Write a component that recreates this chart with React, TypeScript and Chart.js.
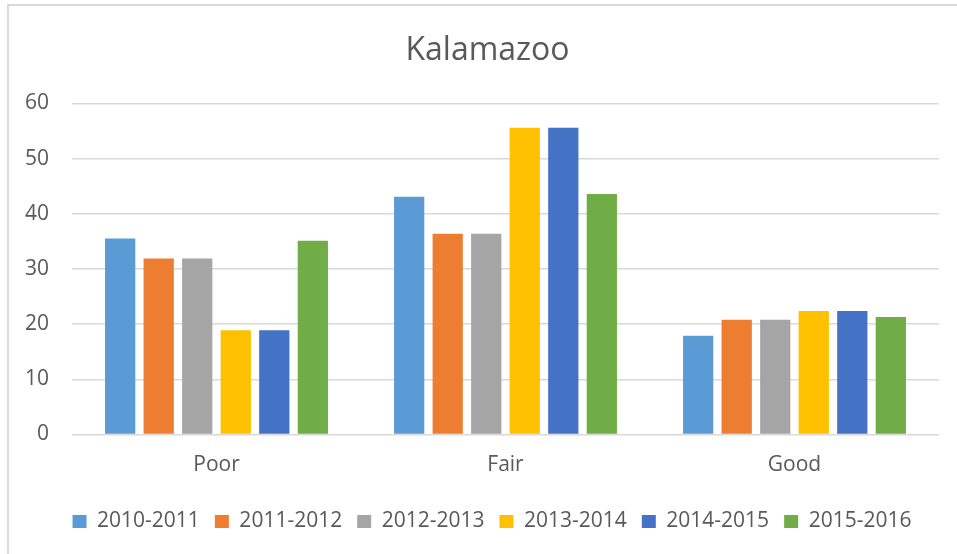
import React, { useEffect, useRef } from "react";
import { Chart, registerables } from "chart.js";

Chart.register(...registerables);

const categories = ["Poor", "Fair", "Good"];
const seriesLabels = ["2010-2011", "2011-2012", "2012-2013", "2013-2014", "2014-2015", "2015-2016"];
const s2010 = [35.5, 43.1, 17.9];
const s2011 = [31.9, 36.4, 20.8];
const s2012 = [31.9, 36.4, 20.8];
const s2013 = [18.9, 55.6, 22.4];
const s2014 = [18.9, 55.6, 22.4];
const s2015 = [35.1, 43.6, 21.3];
const seriesValues = [s2010, s2011, s2012, s2013, s2014, s2015];
const seriesColors = ["#5B9BD5", "#ED7D31", "#A5A5A5", "#FFC000", "#4472C4", "#70AD47"];
const titleText = "Kalamazoo";

const FONT = "'Open Sans', sans-serif";
const TEXT = "#595959";

// Nudge the title and legend boxes so they are centred like the original
const centerShift = {
  id: "centerShift",
  afterLayout(chart: any) {
    const t = chart.titleBlock;
    if (t) {
      t.left += 5.5;
      t.right += 5.5;
    }
    const l = chart.legend;
    if (l) {
      l.left += 10;
      l.right += 10;
    }
  },
};

export default function App() {
  const ref = useRef<HTMLCanvasElement | null>(null);

  useEffect(() => {
    if (!ref.current) return;
    const chart = new Chart(ref.current, {
      type: "bar",
      data: {
        labels: categories,
        datasets: seriesLabels.map((label, i) => ({
          label,
          data: seriesValues[i],
          backgroundColor: seriesColors[i],
          borderWidth: 0,
          categoryPercentage: 0.8,
          barPercentage: 0.785,
        })),
      },
      options: {
        responsive: false,
        animation: false,
        layout: { padding: { left: 25, right: 18, top: 22, bottom: 12 } },
        plugins: {
          title: {
            display: true,
            text: titleText,
            color: TEXT,
            font: { family: FONT, size: 32, weight: "normal" },
            padding: { top: 10, bottom: 33 },
          },
          legend: {
            position: "bottom",
            labels: {
              color: TEXT,
              font: { family: FONT, size: 21 },
              boxWidth: 14,
              boxHeight: 13,
              padding: 15,
            },
          },
          tooltip: { enabled: false },
        },
        scales: {
          x: {
            grid: { display: false, drawTicks: false },
            border: { display: false },
            ticks: { color: TEXT, font: { family: FONT, size: 21 }, padding: 18 },
            afterFit: (scale: any) => {
              scale.height = 61.5;
            },
          },
          y: {
            min: 0,
            max: 60,
            grid: { color: "#D9D9D9", lineWidth: 1.5, drawTicks: false },
            border: { display: false },
            ticks: { stepSize: 10, color: TEXT, font: { family: FONT, size: 21 }, padding: 23 },
            afterFit: (scale: any) => {
              scale.width = 47;
            },
          },
        },
      },
      plugins: [centerShift],
    });
    return () => chart.destroy();
  }, []);

  return (
    <div
      style={{
        position: "fixed",
        left: 0,
        top: 0,
        width: 957,
        height: 554,
        overflow: "hidden",
        background: "#fff",
      }}
    >
      <div
        style={{
          position: "absolute",
          left: 7,
          top: 4,
          width: 1000,
          height: 600,
          border: "2px solid #D9D9D9",
        }}
      />
      <canvas
        ref={ref}
        width={957}
        height={554}
        style={{ position: "absolute", left: 0, top: 0, display: "block" }}
      />
    </div>
  );
}
